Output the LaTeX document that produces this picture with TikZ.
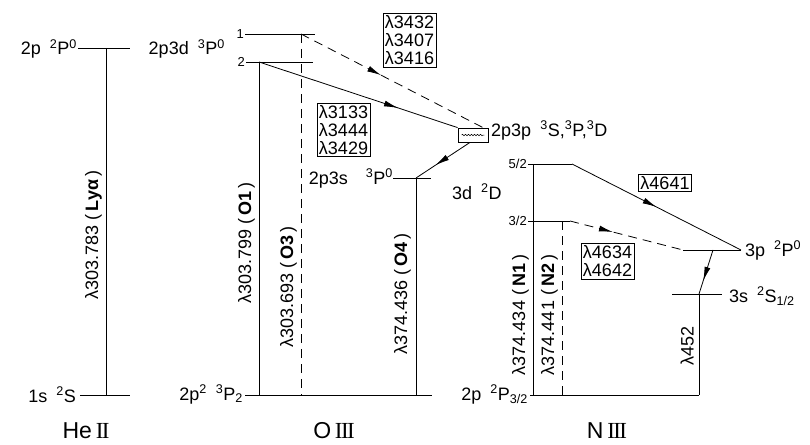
\documentclass[tikz,border=0pt]{standalone}
\usepackage{fontspec}
\setmainfont{Liberation Sans}
\newfontfamily\romfont{Liberation Serif}
\usetikzlibrary{positioning, calc, arrows.meta, decorations.markings, decorations.pathmorphing}
\newcommand{\sps}[1]{\textsuperscript{#1}}
\newcommand{\sbs}[1]{\textsubscript{#1}}
\tikzset{
    lvl/.style={line width=0.8pt},
    weakline/.style={line width=0.8pt, dash pattern=on 9pt off 6pt},
    midarrow/.style={postaction={decorate}, decoration={markings, mark=at position #1 with {\arrow{Latex[length=14pt,width=6pt]}}}},
    termlab/.style={font=\fontsize{18}{20}\selectfont, inner sep=0pt},
    jlab/.style={font=\fontsize{13}{15}\selectfont, inner sep=1pt, anchor=east},
    wlbox/.style={draw, line width=0.8pt, align=left, inner sep=2pt, font=\fontsize{18}{18}\selectfont},
    vlab/.style={rotate=90, anchor=south, font=\fontsize{18}{20}\selectfont, inner sep=2pt},
    ionlab/.style={font=\fontsize{23}{25}\selectfont},
}

\begin{document}
\begin{tikzpicture}[x=1pt, y=-1pt]
\useasboundingbox (0,0) rectangle (810,444);

% He II
\coordinate (heA) at (78,48);  \coordinate (heB) at (130,48);
\coordinate (heC) at (80,395); \coordinate (heD) at (130,395);
\coordinate (heU) at (106,48); \coordinate (heL) at (106,395);
\draw[lvl] (heA) -- (heB);
\draw[lvl] (heC) -- (heD);
\draw[lvl] (heU) -- (heL);
\node[termlab, anchor=base east] (heup) at (77,55) {2p\enspace\sps{2}P\sps{0}};
\node[termlab, anchor=base east] (helo) at (76,402) {1s\enspace\sps{2}S};
\node[vlab] (lya) at (104,235) {λ303.783 (\,\textbf{Lyα}\,)};
\node[ionlab] (he) at (86,431) {He\,{\romfont I\kern-1.6pt I}};

% O III
\coordinate (o1a) at (245,34); \coordinate (o1b) at (315,34);
\coordinate (o2a) at (246,62); \coordinate (o2b) at (313,62);
\coordinate (o3t) at (301,34); \coordinate (o3b) at (301,395);
\coordinate (o1t) at (259,62); \coordinate (o1g) at (259,395);
\coordinate (ogA) at (245,395); \coordinate (ogB) at (432,395);
\coordinate (o4a) at (393,178); \coordinate (o4b) at (431,178);
\coordinate (o4t) at (416,178); \coordinate (o4g) at (416,395);
\draw[lvl] (o1a) -- (o1b);
\draw[lvl] (o2a) -- (o2b);
\draw[lvl] (ogA) -- (ogB);
\draw[lvl] (o4a) -- (o4b);
\draw[lvl] (o1t) -- (o1g);
\draw[weakline] (o3t) -- (o3b);
\draw[lvl] (o4t) -- (o4g);
\node[jlab] (j1) at (o1a) {1};
\node[jlab] (j2) at (o2a) {2};
\node[termlab, anchor=base east] (o3d) at (225,55) {2p3d\enspace\sps{3}P\sps{0}};
\node[termlab, anchor=base east] (o3s) at (393,184) {2p3s\quad\sps{3}P\sps{0}};
\node[termlab, anchor=base east] (ogr) at (243,400) {2p\sps{2}\enspace\sps{3}P\sbs{2}};
\node[vlab] (lo1) at (257,243) {λ303.799 (\,\textbf{O1}\,)};
\node[vlab] (lo3) at (299,287) {λ303.693 (\,\textbf{O3}\,)};
\node[vlab] (lo4) at (413,294) {λ374.436 (\,\textbf{O4}\,)};

\node[draw, line width=0.8pt, minimum width=30pt, minimum height=14pt, inner sep=0pt] (pbox) at (473,135) {};
\draw[decorate, decoration={snake, amplitude=0.7pt, segment length=3pt}, line width=0.5pt]
    ([xshift=4pt]pbox.west) -- ([xshift=-4pt]pbox.east);
\node[termlab, anchor=base west] (o3p) at (491,136) {2p3p\enspace\sps{3}S,\sps{3}P,\sps{3}D};
\draw[weakline, midarrow=0.44] (o3t) -- ([xshift=10pt]pbox.north);
\draw[lvl, midarrow=0.7] (o1t) -- (pbox.north west);
\draw[lvl, midarrow=0.64] ([xshift=-3pt]pbox.south) -- (o4t);
\node[wlbox] (w1) at (409.5,40.5) {λ3432\\λ3407\\λ3416};
\node[wlbox] (w2) at (343.5,130) {λ3133\\λ3444\\λ3429};
\node[ionlab] (ox) at (334,431) {O\,{\romfont I\kern-1.6pt I\kern-1.6pt I}};

% N III
\coordinate (n5a) at (528,164); \coordinate (n5b) at (572,164);
\coordinate (n3a) at (528,221); \coordinate (n3b) at (570,221);
\coordinate (n1t) at (533,164); \coordinate (n1g) at (533,395);
\coordinate (n2t) at (562,221); \coordinate (n2g) at (562,395);
\coordinate (pa) at (683,250);  \coordinate (pb) at (741,250);
\coordinate (pm) at (713,250);
\coordinate (sa) at (672,294);  \coordinate (sb) at (722,294);
\coordinate (sm) at (699,294);
\coordinate (ngA) at (530,395); \coordinate (ngB) at (699,395);
\draw[lvl] (n5a) -- (n5b);
\draw[lvl, midarrow=0.5] (n5b) -- (pb);
\draw[lvl] (n3a) -- (n3b);
\draw[weakline, midarrow=0.38] (n3b) -- (pa);
\draw[lvl] (pa) -- (pb);
\draw[lvl, midarrow=0.7] (pm) -- (sm);
\draw[lvl] (sa) -- (sb);
\draw[lvl] (sm) -- (ngB);
\draw[lvl] (ngA) -- (ngB);
\draw[lvl] (n1t) -- (n1g);
\draw[weakline] (n2t) -- (n2g);
\node[jlab] (j52) at (n5a) {5/2};
\node[jlab] (j32) at (n3a) {3/2};
\node[termlab, anchor=base west] (n3d) at (452,199) {3d\enspace\sps{2}D};
\node[termlab, anchor=base west] (n3pl) at (745,256) {3p\enspace\sps{2}P\sps{0}};
\node[termlab, anchor=base west] (n3sl) at (729,302) {3s\enspace\sps{2}S\sbs{1/2}};
\node[termlab, anchor=base east] (ngr) at (528,400) {2p\enspace\sps{2}P\sbs{3/2}};
\node[vlab] (ln1) at (531,315) {λ374.434 (\,\textbf{N1}\,)};
\node[vlab] (ln2) at (560,315) {λ374.441 (\,\textbf{N2}\,)};
\node[vlab] (l452) at (696,346) {λ452};
\node[wlbox] (w3) at (665,183) {λ4641};
\node[wlbox] (w4) at (607.5,261.5) {λ4634\\λ4642};
\node[ionlab] (ni) at (607,431) {N\,{\romfont I\kern-1.6pt I\kern-1.6pt I}};
\end{tikzpicture}
\end{document}
